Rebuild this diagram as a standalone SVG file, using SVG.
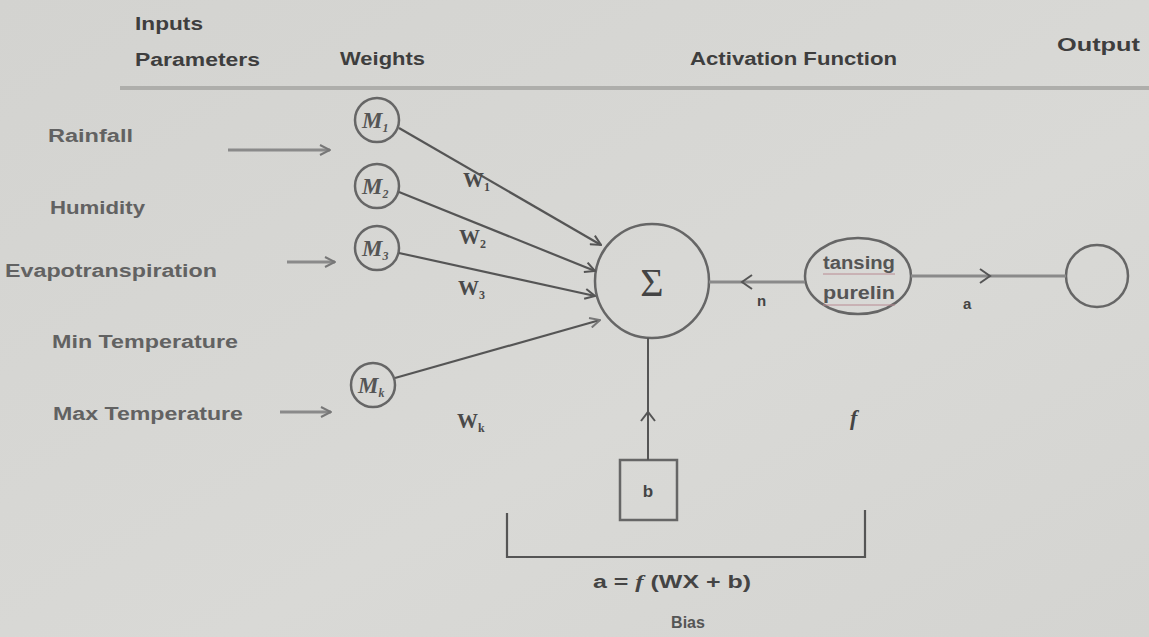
<svg xmlns="http://www.w3.org/2000/svg" width="1149" height="637" viewBox="0 0 1149 637">
<defs>
  <linearGradient id="bg" x1="0" y1="0" x2="1" y2="1">
    <stop offset="0" stop-color="#d3d3d0"/>
    <stop offset="0.6" stop-color="#d9d9d6"/>
    <stop offset="1" stop-color="#d4d4d1"/>
  </linearGradient>
  <marker id="ah" viewBox="0 0 12 12" refX="11" refY="6" markerWidth="12" markerHeight="12" markerUnits="userSpaceOnUse" orient="auto">
    <path d="M1,1 L11,6 L1,11" fill="none" stroke="#555" stroke-width="2"/>
  </marker>
  <marker id="ahl" viewBox="0 0 12 12" refX="11" refY="6" markerWidth="12" markerHeight="12" markerUnits="userSpaceOnUse" orient="auto">
    <path d="M1,1 L11,6 L1,11" fill="none" stroke="#777" stroke-width="2"/>
  </marker>
</defs>
<style>
  .hdr { font-family: "Liberation Sans", Arial, sans-serif; font-weight: bold; font-size: 18px; fill: #3e3e3e; }
  .inp { font-family: "Liberation Sans", Arial, sans-serif; font-weight: bold; font-size: 18px; fill: #626262; }
  .lbl { font-family: "Liberation Sans", Arial, sans-serif; font-weight: bold; font-size: 17px; fill: #444; }
  .m { font-family: "Liberation Serif", "Times New Roman", serif; font-style: italic; font-weight: bold; font-size: 23px; fill: #555; }
  .w { font-family: "Liberation Serif", "Times New Roman", serif; font-weight: bold; font-size: 21px; fill: #4a4a4a; }
  .sub { font-size: 12px; }
  .node { fill: none; stroke: #666; stroke-width: 2.5; }
  .wl { stroke: #555; stroke-width: 2.2; fill: none; }
  .gl { stroke: #8a8a8a; stroke-width: 3; fill: none; }
  .chev { fill: none; stroke: #555; stroke-width: 2; }
</style>
<rect width="1149" height="637" fill="url(#bg)"/>

<g id="header">
  <text class="hdr" x="135" y="30" textLength="68" lengthAdjust="spacingAndGlyphs" font-size="16">Inputs</text>
  <text class="hdr" x="135" y="66" textLength="125" lengthAdjust="spacingAndGlyphs">Parameters</text>
  <text class="hdr" x="340" y="65" textLength="85" lengthAdjust="spacingAndGlyphs">Weights</text>
  <text class="hdr" x="690" y="65" textLength="207" lengthAdjust="spacingAndGlyphs">Activation Function</text>
  <text class="hdr" x="1057" y="51" textLength="83" lengthAdjust="spacingAndGlyphs">Output</text>
  <line x1="120" y1="88" x2="1149" y2="88" stroke="#aeaeab" stroke-width="4"/>
</g>

<g id="inputs">
  <text class="inp" x="48" y="142" textLength="85" lengthAdjust="spacingAndGlyphs">Rainfall</text>
  <text class="inp" x="50" y="214" textLength="95" lengthAdjust="spacingAndGlyphs">Humidity</text>
  <text class="inp" x="5" y="277" textLength="212" lengthAdjust="spacingAndGlyphs">Evapotranspiration</text>
  <text class="inp" x="52" y="348" textLength="186" lengthAdjust="spacingAndGlyphs">Min Temperature</text>
  <text class="inp" x="53" y="420" textLength="190" lengthAdjust="spacingAndGlyphs">Max Temperature</text>
</g>

<g id="w1"><circle class="node" cx="377" cy="120" r="22"/><text class="m" x="362" y="128">M<tspan class="sub" dy="4">1</tspan></text></g>
<g id="w2"><circle class="node" cx="377" cy="186" r="22"/><text class="m" x="362" y="194">M<tspan class="sub" dy="4">2</tspan></text></g>
<g id="w3"><circle class="node" cx="377" cy="248" r="22"/><text class="m" x="362" y="256">M<tspan class="sub" dy="4">3</tspan></text></g>
<g id="wk"><circle class="node" cx="373" cy="385" r="22"/><text class="m" x="358" y="393">M<tspan class="sub" dy="4">k</tspan></text></g>

<g id="sum"><circle class="node" cx="652" cy="281" r="57"/><text x="652" y="296" text-anchor="middle" font-family="Liberation Serif, Times New Roman, serif" font-size="40" fill="#444">Σ</text></g>

<g id="activation">
  <ellipse class="node" cx="858" cy="276" rx="53" ry="38"/>
  <text class="lbl" x="823" y="269" textLength="72" lengthAdjust="spacingAndGlyphs" style="fill:#555;font-size:18px">tansing</text>
  <text class="lbl" x="823" y="299" textLength="72" lengthAdjust="spacingAndGlyphs" style="fill:#555;font-size:18px">purelin</text>
  <line x1="823" y1="274" x2="895" y2="274" stroke="#b88a92" stroke-width="1"/>
  <line x1="823" y1="305" x2="895" y2="305" stroke="#b88a92" stroke-width="1"/>
</g>

<g id="output"><circle class="node" cx="1097" cy="276" r="31"/></g>

<g id="bias"><rect x="620" y="460" width="57" height="60" class="node" stroke-width="2"/><text class="lbl" x="648" y="497" text-anchor="middle">b</text></g>

<g id="connectors">
  <line class="gl" x1="228" y1="150" x2="330" y2="150" marker-end="url(#ahl)"/>
  <line class="gl" x1="287" y1="262" x2="335" y2="262" marker-end="url(#ahl)"/>
  <line class="gl" x1="280" y1="412" x2="331" y2="412" marker-end="url(#ahl)"/>

  <line class="wl" x1="399" y1="128" x2="601" y2="245" marker-end="url(#ah)"/>
  <line class="wl" x1="399" y1="192" x2="595" y2="271" marker-end="url(#ah)"/>
  <line class="wl" x1="399" y1="253" x2="595" y2="296" marker-end="url(#ah)"/>
  <line class="wl" x1="395" y1="378" x2="600" y2="320" stroke="#8a8a8a" stroke-width="3" marker-end="url(#ahl)"/>

  <line x1="709" y1="282" x2="805" y2="282" stroke="#8a8a8a" stroke-width="3"/>
  <path class="chev" d="M752,275 L742,282 L752,289"/>
  <line x1="911" y1="276" x2="1066" y2="276" stroke="#8a8a8a" stroke-width="3"/>
  <path class="chev" d="M980,269 L990,276 L980,283"/>

  <line x1="648" y1="338" x2="648" y2="460" stroke="#555" stroke-width="2"/>
  <path class="chev" d="M641,421 L648,412 L655,421"/>

  <path d="M507,513 L507,557 L865,557 L865,510" fill="none" stroke="#555" stroke-width="2.2"/>
</g>

<g id="labels">
  <text class="w" x="463" y="187">W<tspan class="sub" dy="4">1</tspan></text>
  <text class="w" x="459" y="244">W<tspan class="sub" dy="4">2</tspan></text>
  <text class="w" x="458" y="295">W<tspan class="sub" dy="4">3</tspan></text>
  <text class="w" x="457" y="428">W<tspan class="sub" dy="4">k</tspan></text>
  <text class="lbl" x="757" y="306" style="font-size:15px">n</text>
  <text class="lbl" x="963" y="309" style="font-size:15px">a</text>
  <text x="850" y="425" font-family="Liberation Serif, Times New Roman, serif" font-style="italic" font-weight="bold" font-size="22" fill="#444">f</text>
  <text class="lbl" x="593" y="588" textLength="158" lengthAdjust="spacingAndGlyphs" style="font-size:18px">a = <tspan font-style="italic" font-family="Liberation Serif, serif">f</tspan> (WX + b)</text>
  <text class="lbl" x="688" y="628" text-anchor="middle" style="font-size:16px;fill:#555">Bias</text>
</g>
</svg>
